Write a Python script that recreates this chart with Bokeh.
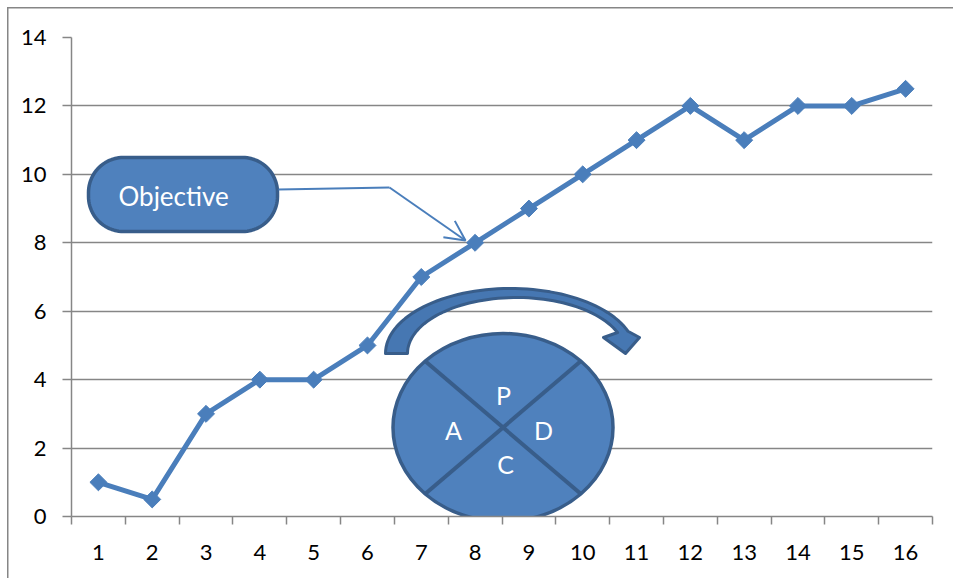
import numpy as np
from bokeh.plotting import figure
from bokeh.models import Range1d, FixedTicker, Arrow, OpenHead
from bokeh.core.properties import value
from bokeh.embed import file_html
from bokeh.resources import INLINE

# ---------------- data ----------------
categories = list(range(1, 17))
values = [1, 0.5, 3, 4, 4, 5, 7, 8, 9, 10, 11, 12, 11, 12, 12, 12.5]
y_ticks = [0, 2, 4, 6, 8, 10, 12, 14]
x_tick_labels = [str(c) for c in categories]
callout_label = "Objective"
pdca_labels = ["P", "D", "C", "A"]

# ---------------- layout / geometry ----------------
W, H = 953, 578
FL, FR, FT, FB = 71, 932, 37, 516          # plot frame in pixels
X0, X1 = 0.5, 16.5
Y0, Y1 = 0, 14

def dx(px):
    return X0 + (np.asarray(px, dtype=float) - FL) / (FR - FL) * (X1 - X0)

def dy(py):
    return Y0 + (FB - np.asarray(py, dtype=float)) / (FB - FT) * (Y1 - Y0)

def sx(wpx):
    return wpx / (FR - FL) * (X1 - X0)

def sy(hpx):
    return hpx / (FB - FT) * (Y1 - Y0)

SERIES = "#4A7EBB"
FILL = "#4F81BD"
EDGE = "#385D8A"
GRID = "#868686"
FONT = "Lato"

p = figure(width=W, height=H, x_range=Range1d(X0, X1), y_range=Range1d(Y0, Y1),
           output_backend="svg", toolbar_location=None,
           min_border_left=FL, min_border_right=W - FR,
           min_border_top=FT, min_border_bottom=H - FB)
p.outline_line_color = None
p.background_fill_color = "white"
p.border_fill_color = None
# outer chart border (top and left edges visible) drawn behind the transparent border area
p.styles = {
    "background": (f"linear-gradient({GRID},{GRID}) 7px 7px / {W}px 1.5px no-repeat, "
                   f"linear-gradient({GRID},{GRID}) 7px 7px / 1.5px {H}px no-repeat, white"),
}

# x axis: labels at category centres, ticks at category boundaries
p.xaxis.ticker = FixedTicker(ticks=categories,
                             minor_ticks=[c - 0.5 for c in categories] + [categories[-1] + 0.5])
p.xaxis.major_label_overrides = {c: l for c, l in zip(categories, x_tick_labels)}
p.xaxis.major_tick_line_color = None
p.xaxis.major_tick_out = 0
p.xaxis.major_tick_in = 0
p.xaxis.minor_tick_out = 8
p.xaxis.minor_tick_in = 0
p.xaxis.minor_tick_line_color = GRID
p.xaxis.minor_tick_line_width = 1.5
p.xaxis.axis_line_color = GRID
p.xaxis.axis_line_width = 1.5
p.xaxis.major_label_standoff = 20

p.yaxis.ticker = FixedTicker(ticks=y_ticks, minor_ticks=[])
p.yaxis.major_tick_out = 9
p.yaxis.major_tick_in = 0
p.yaxis.major_tick_line_color = GRID
p.yaxis.major_tick_line_width = 1.5
p.yaxis.axis_line_color = GRID
p.yaxis.axis_line_width = 1.5
p.yaxis.major_label_standoff = 16

for ax in (p.xaxis, p.yaxis):
    ax.major_label_text_font = FONT
    ax.major_label_text_font_size = "22px"
    ax.major_label_text_color = "black"

p.xgrid.visible = False
p.ygrid.ticker = FixedTicker(ticks=y_ticks)
p.ygrid.grid_line_color = GRID
p.ygrid.grid_line_width = 1.5

# ---------------- series ----------------
p.line(categories, values, line_color=SERIES, line_width=5)
p.scatter(categories, values, marker="square", angle=np.pi / 4, size=12,
          fill_color=SERIES, line_color=SERIES)

# ---------------- callout box ----------------
def rounded_rect(x0, x1, y0, y1, r, n=24):
    pts = []
    corners = [(x1 - r, y0 + r, -90, 0), (x1 - r, y1 - r, 0, 90),
               (x0 + r, y1 - r, 90, 180), (x0 + r, y0 + r, 180, 270)]
    for cx, cy, a0, a1 in corners:
        t = np.radians(np.linspace(a0, a1, n))
        pts += list(zip(cx + r * np.cos(t), cy + r * np.sin(t)))
    xs, ys = zip(*pts)
    return np.array(xs), np.array(ys)

bx, by = rounded_rect(88, 277, 157, 231, 35)
p.patch(dx(bx), dy(by), fill_color=FILL, line_color=EDGE, line_width=3.5)
p.text(x=[dx(118)], y=[dy(195)], text=[callout_label], text_font=value(FONT),
       text_font_size="26px", text_color="white", text_align="left",
       text_baseline="middle")

# callout connector + arrow
p.line(dx([278, 389]), dy([189, 187]), line_color=SERIES, line_width=2)
p.add_layout(Arrow(end=OpenHead(size=20, line_color=SERIES, line_width=2),
                   x_start=float(dx(389)), y_start=float(dy(187)),
                   x_end=float(dx(465)), y_end=float(dy(240)),
                   line_color=SERIES, line_width=2))

# ---------------- curved arrow ----------------
to = np.radians(np.linspace(180, 20, 60))
ox = 510 + 125 * np.cos(to)
oy = 353 - 65 * np.sin(to)
ti = np.radians(np.linspace(22, 180, 60))
ix = 516 + 109 * np.cos(ti)
iy = 353 - 56 * np.sin(ti)
ax_px = np.concatenate([ox, [639, 625, 603], ix])
ay_px = np.concatenate([oy, [337, 353, 337], iy])
p.patch(dx(ax_px), dy(ay_px), fill_color="#4677B2", line_color=EDGE, line_width=3,
        line_join="round")

# ---------------- PDCA circle ----------------
cxp, cyp, ew, eh = 502.5, 427, 220, 188
p.ellipse(x=[dx(cxp)], y=[dy(cyp)], width=[sx(ew)], height=[sy(eh)],
          fill_color=FILL, line_color=EDGE, line_width=3.5)
a, b = ew / 2 - 1, eh / 2 - 1
k = np.cos(np.pi / 4)
p.segment(x0=dx([cxp - a * k, cxp + a * k]), y0=dy([cyp - b * k, cyp - b * k]),
          x1=dx([cxp + a * k, cxp - a * k]), y1=dy([cyp + b * k, cyp + b * k]),
          line_color=EDGE, line_width=4)
lab_px = [(503, 394), (543, 429), (505, 463), (453, 429)]
p.text(x=dx([q[0] for q in lab_px]), y=dy([q[1] for q in lab_px]), text=pdca_labels,
       text_font=value(FONT), text_font_size="25px", text_color="white",
       text_align="center", text_baseline="middle")

open("out.html", "w").write(file_html(p, INLINE))
